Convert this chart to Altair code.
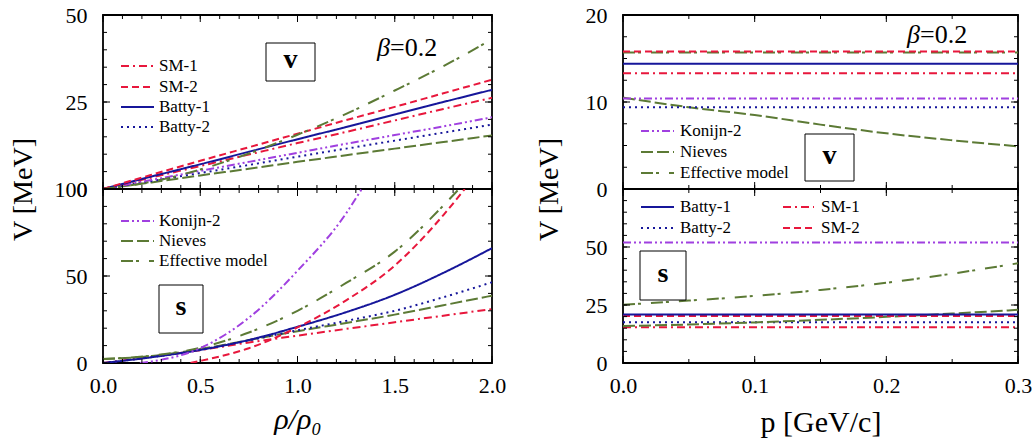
import altair as alt
import pandas as pd

# ---------------- data ----------------
# left column: V versus rho/rho0
rho_grid = [0.0, 0.25, 0.5, 0.75, 1.0, 1.25, 1.5, 1.75, 2.0]

v_rho_sm1 = [0.0, 3.3, 6.6, 9.9, 13.2, 16.4, 19.7, 23.0, 26.2]
v_rho_sm2 = [0.0, 4.1, 8.1, 12.0, 15.9, 19.8, 23.6, 27.5, 31.4]
v_rho_batty1 = [0.0, 3.6, 7.1, 10.7, 14.3, 17.8, 21.4, 25.0, 28.5]
v_rho_batty2 = [0.0, 2.3, 4.6, 6.9, 9.3, 11.6, 13.9, 16.2, 18.5]
v_rho_konijn2 = [0.0, 2.6, 5.2, 7.8, 10.4, 13.0, 15.5, 18.0, 20.6]
v_rho_nieves = [0.0, 1.9, 3.9, 5.8, 7.8, 9.7, 11.6, 13.5, 15.4]
v_rho_effective = [0.0, 2.1, 5.6, 10.2, 15.6, 21.6, 28.3, 35.3, 43.0]

s_rho_sm1 = [0.0, 3.6, 7.4, 11.8, 15.7, 19.6, 23.4, 27.2, 31.0]
s_rho_batty1 = [0.0, 3.3, 7.5, 13.2, 20.8, 29.2, 39.2, 51.8, 66.0]
s_rho_batty2 = [0.0, 3.4, 7.6, 13.0, 18.8, 24.2, 30.0, 37.8, 46.4]
s_rho_nieves = [2.3, 4.0, 8.0, 13.2, 18.3, 23.0, 27.8, 33.2, 38.7]
s_rho_sm2_x = [0.45, 0.5, 0.75, 1.0, 1.25, 1.5, 1.75, 1.86]
s_rho_sm2 = [0.0, 1.2, 8.5, 20.5, 36.0, 56.0, 85.0, 100.0]
s_rho_konijn2_x = [0.19, 0.25, 0.5, 0.75, 1.0, 1.25, 1.33]
s_rho_konijn2 = [0.0, 0.9, 8.5, 26.0, 53.0, 86.0, 100.0]
s_rho_effective_x = [0.0, 0.25, 0.5, 0.75, 1.0, 1.25, 1.5, 1.75, 1.83]
s_rho_effective = [2.3, 4.2, 8.8, 17.5, 30.0, 46.0, 64.0, 90.5, 100.0]

# right column: V versus p
p_ends = [0.0, 0.3]
p_grid = [0.0, 0.05, 0.1, 0.15, 0.2, 0.25, 0.3]

v_p_sm1 = [13.3, 13.3]
v_p_sm2 = [15.8, 15.8]
v_p_batty1 = [14.4, 14.4]
v_p_batty2 = [9.4, 9.4]
v_p_konijn2 = [10.4, 10.4]
v_p_effective = [15.7, 15.7]
v_p_nieves = [10.5, 9.4, 8.5, 7.4, 6.4, 5.6, 4.9]

s_p_sm1 = [15.4, 15.4]
s_p_sm2 = [20.3, 20.3]
s_p_batty1 = [20.9, 20.9]
s_p_batty2 = [17.6, 17.6]
s_p_konijn2 = [51.9, 51.9]
s_p_effective = [25.1, 26.9, 28.9, 31.5, 34.6, 38.5, 43.0]
s_p_nieves = [15.9, 16.6, 17.5, 18.6, 19.9, 21.3, 22.9]

# ---------------- styles ----------------
FONT = "Liberation Serif"
RED = "#e8173c"
NAVY = "#16169a"
PURPLE = "#a040e0"
OLIVE = "#5c7a35"
ORDER = ["SM-1", "SM-2", "Batty-1", "Batty-2", "Konijn-2", "Nieves", "Effective model"]
COLORS = [RED, RED, NAVY, NAVY, PURPLE, OLIVE, OLIVE]
DASHES = [[8, 4, 2, 4], [7, 4], [1, 0], [2, 4], [8, 3, 2, 3, 2, 3], [12, 4], [12, 3, 3, 10]]
STYLE = {n: (c, d) for n, c, d in zip(ORDER, COLORS, DASHES)}

WL, WR, H = 389, 395, 174
ONE = pd.DataFrame({"k": [0]})


def series_df(pairs):
    frames = []
    for name, xs, ys in pairs:
        frames.append(pd.DataFrame({"x": xs, "y": ys, "series": name}))
    return pd.concat(frames, ignore_index=True)


def txt(x, y, s, size=17, **kw):
    return alt.Chart(ONE).mark_text(
        text=s, font=FONT, fontSize=size, align=kw.pop("align", "left"),
        baseline="middle", color="black", **kw
    ).encode(x=alt.value(x), y=alt.value(y))


def box(x1, x2, y1, y2, letter):
    r = alt.Chart(ONE).mark_rect(fill="white", stroke="black", strokeWidth=1).encode(
        x=alt.value(x1), x2=alt.value(x2), y=alt.value(y1), y2=alt.value(y2))
    t = txt((x1 + x2) / 2, (y1 + y2) / 2 - 2, letter, size=28, fontWeight="bold", align="center")
    return [r, t]


def legend_entry(name, x, y, tx, length=33):
    c, d = STYLE[name]
    rule = alt.Chart(ONE).mark_rule(color=c, strokeDash=d, strokeWidth=2).encode(
        x=alt.value(x), x2=alt.value(x + length), y=alt.value(y))
    return [rule, txt(tx, y, name)]


def beta(x, y):
    return [txt(x, y, "β", size=26, fontStyle="italic"), txt(x + 13, y, "=0.2", size=26)]


def panel(df, xdom, ydom, w, h, xmajor, xminor, ymajor, yminor, xaxis, yaxis, decor):
    xs = alt.Scale(domain=xdom, nice=False, zero=False)
    ys = alt.Scale(domain=ydom, nice=False, zero=False)
    X = alt.X("x:Q", scale=xs, axis=xaxis)
    Y = alt.Y("y:Q", scale=ys, axis=yaxis)
    lines = alt.Chart(df).mark_line(strokeWidth=2, clip=True, interpolate="monotone").encode(
        x=X, y=Y,
        color=alt.Color("series:N", scale=alt.Scale(domain=ORDER, range=COLORS), legend=None),
        strokeDash=alt.StrokeDash("series:N", scale=alt.Scale(domain=ORDER, range=DASHES), legend=None),
    )
    layers = [lines]
    for vals, L in ((xmajor, 7), (xminor, 4)):
        base = alt.Chart(pd.DataFrame({"x": vals})).mark_rule(color="black", strokeWidth=1)
        layers.append(base.encode(x=X, y=alt.value(h), y2=alt.value(h - L)))
        layers.append(base.encode(x=X, y=alt.value(0), y2=alt.value(L)))
    for vals, L in ((ymajor, 7), (yminor, 4)):
        base = alt.Chart(pd.DataFrame({"y": vals})).mark_rule(color="black", strokeWidth=1)
        layers.append(base.encode(y=Y, x=alt.value(0), x2=alt.value(L)))
        layers.append(base.encode(y=Y, x=alt.value(w), x2=alt.value(w - L)))
    layers += decor
    return alt.layer(*layers).properties(width=w, height=h)


def yaxis(values, title=None, title_x=-77):
    kw = dict(values=values, format="d", grid=False, ticks=False, tickSize=0, domain=False,
              labelFont=FONT, labelFontSize=22, labelColor="black", labelPadding=16,
              labelFlush=False, labelOverlap=False)
    if title:
        kw.update(title=title, titleFont=FONT, titleFontSize=28, titleFontWeight="normal",
                  titleColor="black", titleAngle=270, titleX=title_x, titleY=H,
                  titleAlign="center", titleBaseline="middle")
    else:
        kw.update(title=None)
    return alt.Axis(**kw)


def xaxis(values, title, title_y, italic=False):
    kw = dict(values=values, format=".1f", grid=False, ticks=False, tickSize=0, domain=False,
              labelFont=FONT, labelFontSize=22, labelColor="black", labelPadding=12,
              labelFlush=False, labelOverlap=False,
              title=title, titleFont=FONT, titleFontSize=30, titleFontWeight="normal",
              titleColor="black", titleY=title_y, titleBaseline="alphabetic")
    if italic:
        kw["titleFontStyle"] = "italic"
    return alt.Axis(**kw)


def steps(a, b, d):
    n = int(round((b - a) / d))
    return [round(a + i * d, 4) for i in range(n + 1)]


# ---------------- panels ----------------
df_tl = series_df([
    ("Nieves", rho_grid, v_rho_nieves), ("Batty-2", rho_grid, v_rho_batty2),
    ("Konijn-2", rho_grid, v_rho_konijn2), ("SM-1", rho_grid, v_rho_sm1),
    ("Batty-1", rho_grid, v_rho_batty1), ("SM-2", rho_grid, v_rho_sm2),
    ("Effective model", rho_grid, v_rho_effective)])
df_bl = series_df([
    ("SM-1", rho_grid, s_rho_sm1), ("Nieves", rho_grid, s_rho_nieves),
    ("Batty-2", rho_grid, s_rho_batty2), ("Batty-1", rho_grid, s_rho_batty1),
    ("SM-2", s_rho_sm2_x, s_rho_sm2), ("Effective model", s_rho_effective_x, s_rho_effective),
    ("Konijn-2", s_rho_konijn2_x, s_rho_konijn2)])
df_tr = series_df([
    ("Nieves", p_grid, v_p_nieves), ("Batty-2", p_ends, v_p_batty2),
    ("Konijn-2", p_ends, v_p_konijn2), ("SM-1", p_ends, v_p_sm1),
    ("Batty-1", p_ends, v_p_batty1), ("Effective model", p_ends, v_p_effective),
    ("SM-2", p_ends, v_p_sm2)])
df_br = series_df([
    ("SM-1", p_ends, s_p_sm1), ("Batty-2", p_ends, s_p_batty2),
    ("Nieves", p_grid, s_p_nieves), ("SM-2", p_ends, s_p_sm2),
    ("Batty-1", p_ends, s_p_batty1), ("Effective model", p_grid, s_p_effective),
    ("Konijn-2", p_ends, s_p_konijn2)])

dec_tl = box(163, 212, 28, 66, "v") + beta(274, 33)
for name, y in zip(["SM-1", "SM-2", "Batty-1", "Batty-2"], [51, 72, 92, 112]):
    dec_tl += legend_entry(name, 18, y, 56)

dec_bl = box(56, 100, 96, 144, "s")
for name, y in zip(["Konijn-2", "Nieves", "Effective model"], [32, 52, 72]):
    dec_bl += legend_entry(name, 18, y, 56)

dec_tr = box(182, 231, 119, 166, "v") + beta(284, 20)
for name, y in zip(["Konijn-2", "Nieves", "Effective model"], [116, 137, 158]):
    dec_tr += legend_entry(name, 18, y, 57)

dec_br = box(17, 63, 62, 111, "s")
for name, x, tx, y in [("Batty-1", 18, 57, 18), ("Batty-2", 18, 57, 39),
                       ("SM-1", 160, 198, 18), ("SM-2", 160, 198, 39)]:
    dec_br += legend_entry(name, x, y, tx, length=31 if x > 100 else 33)

tl = panel(df_tl, [0, 2], [0, 50], WL, H,
           steps(0, 2, 0.5), steps(0, 2, 0.1), steps(0, 50, 25), steps(0, 50, 5),
           None, yaxis([0, 25, 50], "V [MeV]", -80), dec_tl)
bl = panel(df_bl, [0, 2], [0, 100], WL, H,
           steps(0, 2, 0.5), steps(0, 2, 0.1), steps(0, 100, 50), steps(0, 100, 10),
           xaxis([0, 0.5, 1.0, 1.5, 2.0], "ρ/ρ₀", 65, italic=True), yaxis([0, 50, 100]), dec_bl)
tr = panel(df_tr, [0, 0.3], [0, 20], WR, H,
           steps(0, 0.3, 0.1), steps(0, 0.3, 0.05), steps(0, 20, 10), steps(0, 20, 2.5),
           None, yaxis([0, 10, 20], "V [MeV]", -74), dec_tr)
br = panel(df_br, [0, 0.3], [0, 75], WR, H,
           steps(0, 0.3, 0.1), steps(0, 0.3, 0.05), steps(0, 75, 25), steps(0, 75, 5),
           xaxis([0, 0.1, 0.2, 0.3], "p [GeV/c]", 68), yaxis([0, 25, 50]), dec_br)

chart = alt.concat(
    tl, tr, bl, br, columns=2, spacing={"row": 0, "column": 131}, bounds="flush"
).resolve_scale(
    x="independent", y="independent", color="independent", strokeDash="independent"
).properties(
    autosize=alt.AutoSizeParams(type="pad"),
    padding={"left": 8, "top": 3, "right": 0, "bottom": 0},
    background="white",
).configure_view(stroke="black", strokeWidth=1.8)

chart.save("out.html", embed_options={"renderer": "svg", "actions": False})
